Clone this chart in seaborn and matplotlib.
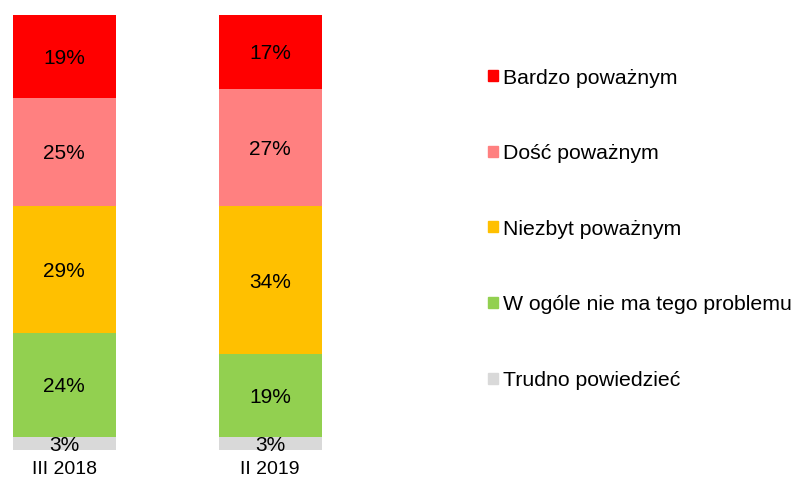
import matplotlib
matplotlib.use('Agg')
import matplotlib.pyplot as plt
import matplotlib.patches as mpatches
import seaborn as sns
import numpy as np
import pandas as pd

periods = ['III 2018', 'II 2019']
categories = ['Bardzo poważnym', 'Dość poważnym', 'Niezbyt poważnym',
              'W ogóle nie ma tego problemu', 'Trudno powiedzieć']
values = {
    'Bardzo poważnym': [19, 17],
    'Dość poważnym': [25, 27],
    'Niezbyt poważnym': [29, 34],
    'W ogóle nie ma tego problemu': [24, 19],
    'Trudno powiedzieć': [3, 3],
}
colors = ['#FF0000', '#FF8080', '#FFC000', '#92D050', '#D9D9D9']

sns.set_style('white')
plt.rcParams['font.family'] = ['Liberation Sans', 'DejaVu Sans']
plt.rcParams['text.color'] = 'black'
plt.rcParams['xtick.color'] = 'black'

fig = plt.figure(figsize=(7.95, 4.83), dpi=100)
ax = fig.add_axes([2.2 / 795, 33 / 483, 329.6 / 795, 435 / 483])

# stacking: draw cumulative totals from the top segment down
df = pd.DataFrame(values, index=periods)
bottom_up = categories[::-1]
cum = df[bottom_up].cumsum(axis=1)
for cat, col in zip(categories, colors):
    sns.barplot(x=periods, y=cum[cat].values, color=col, width=0.5,
                saturation=1, ax=ax, linewidth=0)

# segment labels
for i, p in enumerate(periods):
    for cat in categories:
        top = cum.loc[p, cat]
        v = df.loc[p, cat]
        ax.text(i, top - v / 2 - 0.45, f'{v}%', ha='center', va='center',
                fontsize=15, color='black')

ax.set_xlim(-0.3, 1.3)
ax.set_ylim(0, 100)
ax.set_yticks([])
ax.tick_params(axis='x', length=0, labelsize=14, pad=8, labelcolor='black')
for s in ax.spines.values():
    s.set_visible(False)

handles = [mpatches.Patch(color=c, label=l) for l, c in zip(categories, colors)]
fig.legend(handles=handles, loc='upper left', bbox_to_anchor=(479 / 795, 1 - 60 / 483),
           frameon=False, fontsize=15.3, handlelength=0.5, handleheight=0.42,
           handletextpad=0.25, labelspacing=2.66, borderaxespad=0,
           labelcolor='black')

fig.savefig('out.png', dpi=100)
